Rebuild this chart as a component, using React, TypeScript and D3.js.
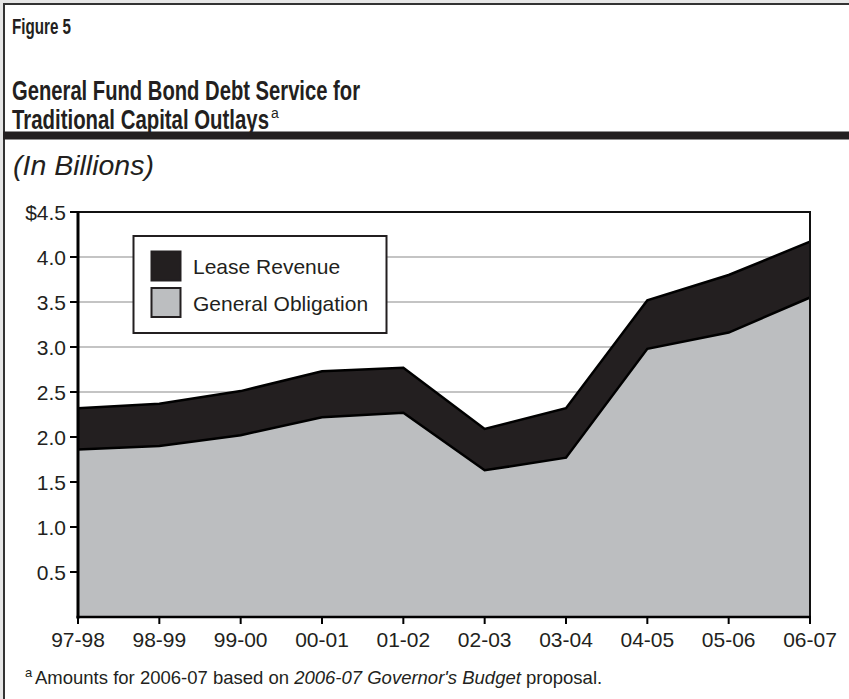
import React from "react";
import * as d3 from "d3";

const categories = ["97-98", "98-99", "99-00", "00-01", "01-02", "02-03", "03-04", "04-05", "05-06", "06-07"];
const generalObligation = [1.86, 1.9, 2.02, 2.22, 2.27, 1.63, 1.77, 2.98, 3.16, 3.55];
const leaseRevenue = [0.46, 0.47, 0.49, 0.51, 0.5, 0.46, 0.55, 0.54, 0.64, 0.62];
const yTickValues = [0.5, 1.0, 1.5, 2.0, 2.5, 3.0, 3.5, 4.0, 4.5];
const yTickLabels = ["0.5", "1.0", "1.5", "2.0", "2.5", "3.0", "3.5", "4.0", "$4.5"];
const seriesKeys = ["generalObligation", "leaseRevenue"];
const seriesNames = ["General Obligation", "Lease Revenue"];

const W = 849;
const H = 699;
const DARK = "#231f20";
const GRAY = "#bcbec0";
const FONT = "'Liberation Sans', Arial, Helvetica, sans-serif";

export default function App() {
  const left = 78, right = 810, top = 212, bottom = 617;
  const x = d3.scalePoint<string>().domain(categories).range([left, right]);
  const y = d3.scaleLinear().domain([0, 4.5]).range([bottom, top]);

  const rows = categories.map((c, i) => ({
    cat: c,
    generalObligation: generalObligation[i],
    leaseRevenue: leaseRevenue[i],
  }));
  const stacked = d3.stack<any>().keys(seriesKeys)(rows);

  const area = d3
    .area<any>()
    .x((d) => x(d.data.cat) as number)
    .y0((d) => y(0))
    .y1((d) => y(d[1]));
  const line = d3
    .line<any>()
    .x((d) => x(d.data.cat) as number)
    .y((d) => y(d[1]));

  const fills = [GRAY, DARK];

  return (
    <div style={{ position: "absolute", left: 0, top: 0, width: W, height: H, background: "#fff" }}>
      <svg width={W} height={H} style={{ display: "block" }} fontFamily={FONT}>
        <rect x={0} y={0} width={W} height={H} fill="#fff" />
        {/* outer frame */}
        <rect x={0} y={0} width={W} height={3} fill="#e6e6e6" />
        <rect x={0} y={0} width={3} height={H} fill="#e6e6e6" />
        <rect x={3} y={3} width={W - 3} height={2} fill="#333" />
        <rect x={3} y={3} width={2} height={H - 3} fill="#333" />

        {/* header */}
        <text x={12} y={34} fontSize={22} fontWeight="bold" fill={DARK} textLength={59} lengthAdjust="spacingAndGlyphs">
          Figure 5
        </text>
        <text x={12} y={100} fontSize={28.5} fontWeight="bold" fill={DARK} textLength={348} lengthAdjust="spacingAndGlyphs">
          General Fund Bond Debt Service for
        </text>
        <text x={12} y={129} fontSize={28.5} fontWeight="bold" fill={DARK} textLength={257} lengthAdjust="spacingAndGlyphs">
          Traditional Capital Outlays
        </text>
        <text x={271} y={118} fontSize={14} fill={DARK}>a</text>
        <rect x={3} y={131.5} width={W - 3} height={8} fill={DARK} />

        <text x={13} y={175} fontSize={28.5} fontStyle="italic" fill={DARK}>
          (In Billions)
        </text>

        {/* gridlines */}
        {yTickValues.slice(0, -1).map((v) => (
          <line key={v} x1={left} x2={right} y1={y(v)} y2={y(v)} stroke="#c4c4c4" strokeWidth={2} />
        ))}

        {/* areas */}
        {stacked
          .slice()
          .reverse()
          .map((s, i) => {
            const idx = stacked.length - 1 - i;
            return (
              <g key={s.key}>
                <path d={area(s as any) as string} fill={fills[idx]} />
                <path d={line(s as any) as string} fill="none" stroke="#000" strokeWidth={2.5} strokeLinejoin="miter" />
              </g>
            );
          })}

        {/* plot border */}
        <line x1={left} x2={right + 1} y1={top} y2={top} stroke="#111" strokeWidth={2} />
        <line x1={right} x2={right} y1={top} y2={bottom} stroke="#111" strokeWidth={2} />
        <line x1={left} x2={left} y1={top - 1} y2={bottom + 1.5} stroke="#000" strokeWidth={3} />
        <line x1={left - 1.5} x2={right + 1} y1={bottom} y2={bottom} stroke="#000" strokeWidth={2.5} />

        {/* y ticks */}
        {yTickValues.map((v, i) => (
          <g key={v}>
            <line x1={70} x2={left} y1={y(v)} y2={y(v)} stroke="#000" strokeWidth={2} />
            <text x={66} y={y(v) + 7.5} fontSize={21} textAnchor="end" fill={DARK}>
              {yTickLabels[i]}
            </text>
          </g>
        ))}

        {/* x ticks */}
        {categories.map((c) => (
          <g key={c}>
            <line x1={x(c)} x2={x(c)} y1={bottom} y2={bottom + 7} stroke="#000" strokeWidth={2} />
            <text x={x(c)} y={647} fontSize={21} textAnchor="middle" fill={DARK}>
              {c}
            </text>
          </g>
        ))}

        {/* legend */}
        <rect x={133.5} y={236} width={253} height={97} fill="#fff" stroke={DARK} strokeWidth={2} />
        {[1, 0].map((idx, j) => (
          <g key={idx}>
            <rect x={151.5} y={251.5 + j * 36.5} width={29} height={29} fill={fills[idx]} stroke={DARK} strokeWidth={2} />
            <text x={193} y={274 + j * 36.5} fontSize={21} fill={DARK}>
              {seriesNames[idx]}
            </text>
          </g>
        ))}

        {/* footnote */}
        <text x={25} y={677} fontSize={13} fill={DARK}>a</text>
        <text x={35} y={684} fontSize={18.5} fill={DARK}>
          Amounts for 2006-07 based on <tspan fontStyle="italic">2006-07 Governor's Budget</tspan> proposal.
        </text>
      </svg>
    </div>
  );
}
